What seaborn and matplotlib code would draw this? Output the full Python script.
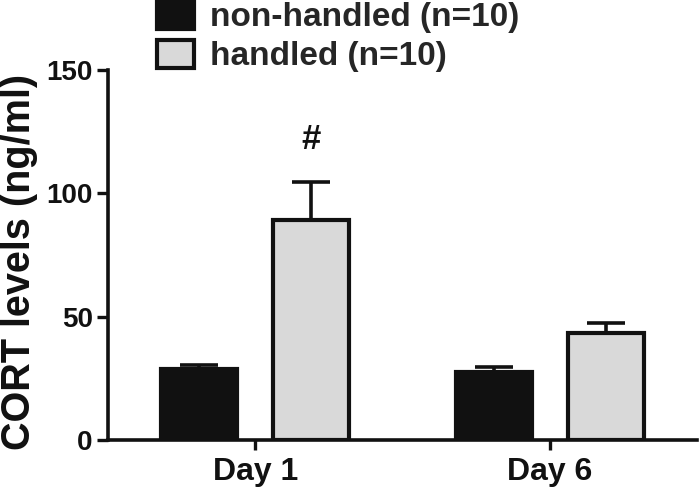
import numpy as np
import pandas as pd
import matplotlib
matplotlib.use("Agg")
import matplotlib.pyplot as plt
import seaborn as sns

days = ["Day 1", "Day 6"]
groups = ["non-handled (n=10)", "handled (n=10)"]
means_nonhandled = [28.6, 27.5]
means_handled = [89.3, 43.2]
sem_nonhandled = [1.7, 2.0]
sem_handled = [15.2, 4.2]
y_ticks = [0, 50, 100, 150]
annotation = "#"

df = pd.DataFrame({
    "day": days * 2,
    "group": [groups[0]] * 2 + [groups[1]] * 2,
    "mean": means_nonhandled + means_handled,
    "sem": sem_nonhandled + sem_handled,
})

sns.set_style("ticks")
plt.rcParams["font.family"] = ["Liberation Sans", "DejaVu Sans"]
plt.rcParams["font.weight"] = "bold"

fig = plt.figure(figsize=(6.99, 4.92), dpi=100)
ax = fig.add_axes([108 / 699, 1 - 440 / 492, (697 - 108) / 699, (440 - 70) / 492])

palette = {groups[0]: "#111111", groups[1]: "#d9d9d9"}
sns.barplot(data=df, x="day", y="mean", hue="group", hue_order=groups,
            order=days, palette=palette, errorbar=None, width=0.76, gap=0.32,
            edgecolor="#111111", linewidth=3, saturation=1, ax=ax, zorder=3)

# upward-only error bars from bar patch centers
bars = [p for p in ax.patches if p.get_height() > 0]
ordered = sorted(bars, key=lambda p: p.get_x())
for p in ordered:
    cx = p.get_x() + p.get_width() / 2
    h = p.get_height()
    row = df.iloc[(df["mean"] - h).abs().argmin()]
    ax.errorbar(cx, h, yerr=[[0], [row["sem"]]], fmt="none", ecolor="#111111",
                elinewidth=2.6, capsize=13.5, capthick=2.6, zorder=2)

# annotation over day-1 handled bar
hb = [p for p in ordered if abs(p.get_height() - means_handled[0]) < 1e-6][0]
ax.text(hb.get_x() + hb.get_width() / 2, 122, annotation, ha="center", va="center",
        fontsize=25, fontweight="heavy", color="#111111")

ax.set_ylim(0, 150)
ax.set_xlim(-0.5, 1.5)
ax.set_yticks(y_ticks)
ax.set_yticklabels([str(t) for t in y_ticks])
sns.despine(ax=ax)
for s in ["left", "bottom"]:
    ax.spines[s].set_linewidth(2.6)
    ax.spines[s].set_color("#111111")
ax.tick_params(axis="y", length=8, width=2.4, pad=3, labelsize=20, colors="#111111")
ax.tick_params(axis="x", length=7, width=2.4, pad=5, labelsize=23, colors="#111111")
for lab in ax.get_xticklabels() + ax.get_yticklabels():
    lab.set_fontweight("bold")

ax.set_xlabel("")
ax.set_ylabel("CORT levels (ng/ml)", fontsize=28.5, fontweight="bold", color="#111111")
ax.yaxis.set_label_coords(-0.118, 0.48)

handles, labels = ax.get_legend_handles_labels()
if ax.get_legend() is not None:
    ax.get_legend().remove()
fig.legend(handles, labels, loc="upper left", bbox_to_anchor=(157 / 699, 1.0),
           frameon=False, prop={"weight": "bold", "size": 24},
           handlelength=1.1, handleheight=0.95, handletextpad=0.5,
           labelspacing=0.2, borderpad=0, borderaxespad=0)

fig.savefig("out.png", dpi=100)
